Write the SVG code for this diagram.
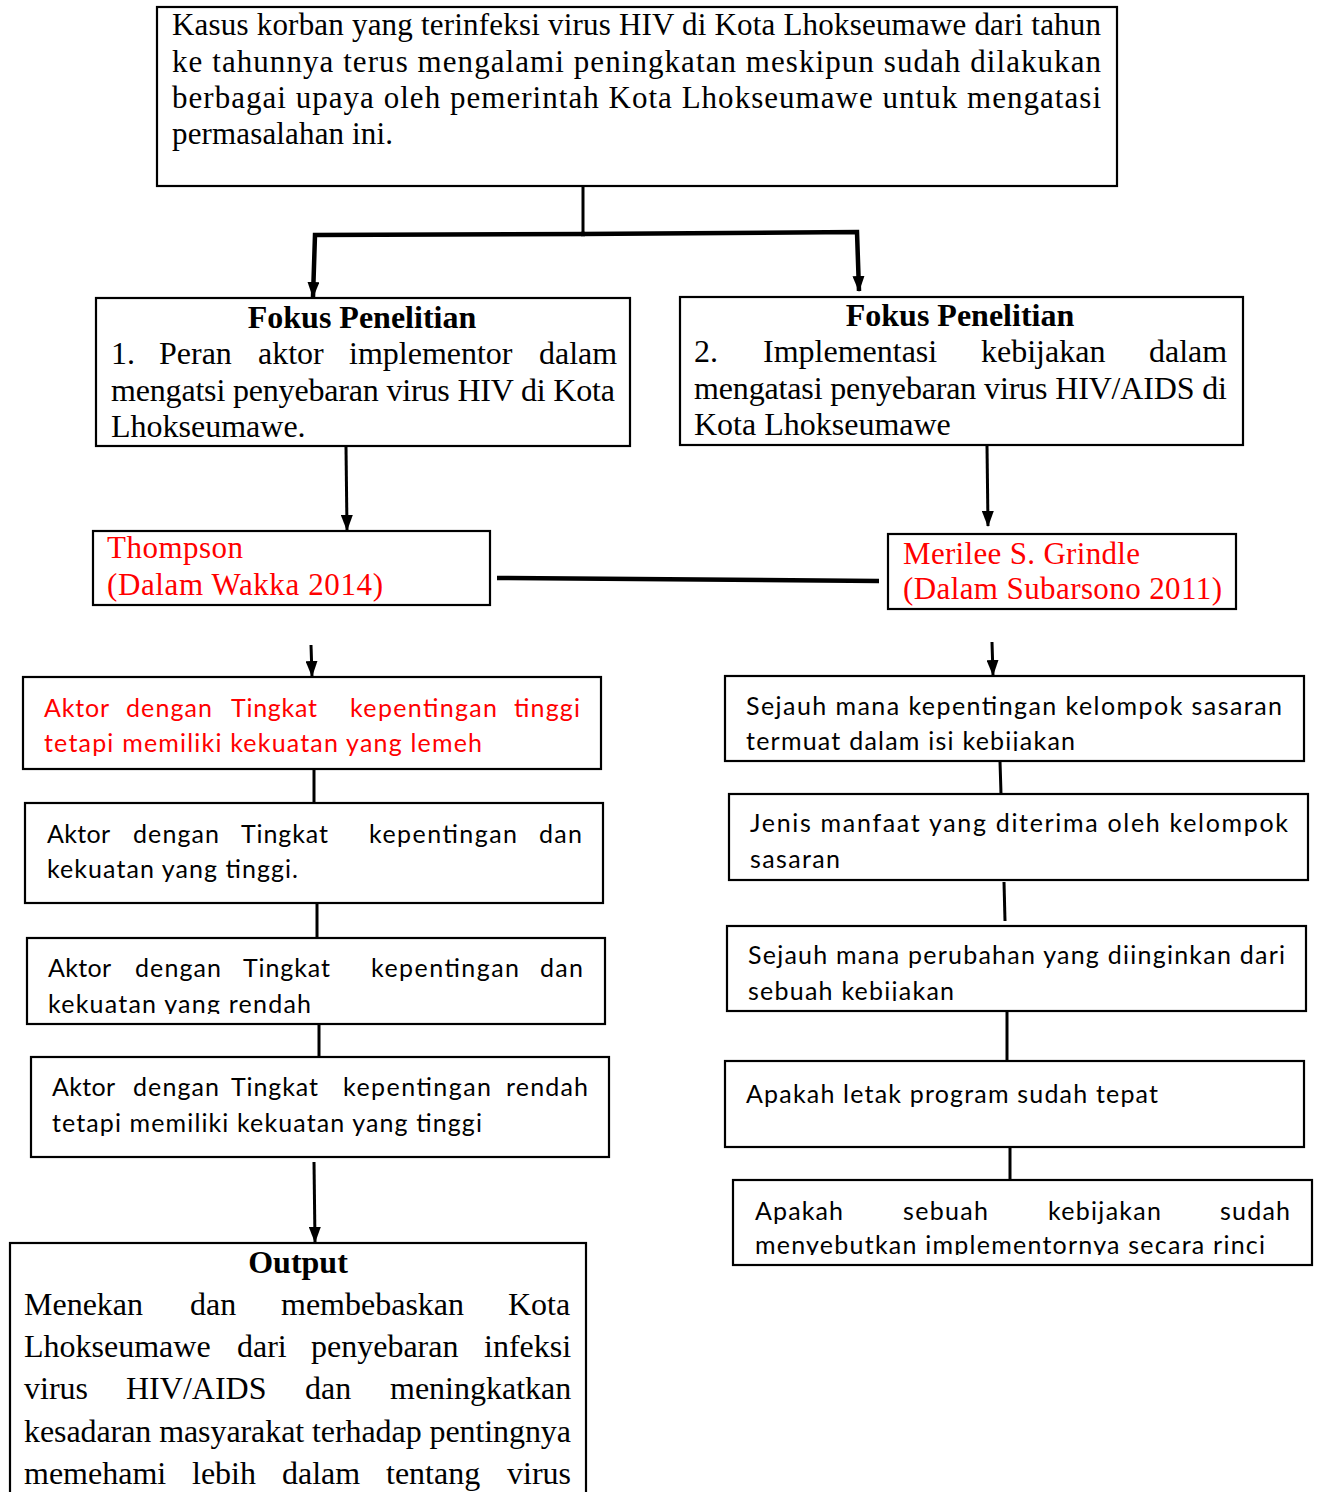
<svg xmlns="http://www.w3.org/2000/svg" width="1318" height="1492" viewBox="0 0 1318 1492">
<style>
.box{fill:#fff;stroke:#000;stroke-width:2.2}
.serif{font-family:"Liberation Serif","Times New Roman",serif;font-size:31px;fill:#000}
.serif32{font-family:"Liberation Serif","Times New Roman",serif;font-size:32px;fill:#000}
.bold{font-weight:bold}
.sans{font-family:Lato,"Open Sans","Noto Sans",sans-serif;font-size:25px;fill:#000}
.red{fill:#ff0000}
.conn{stroke:#000;stroke-width:3;fill:none}
.thick{stroke-width:4.5}
.arrow{marker-end:url(#ah)}
</style>
<defs>
<marker id="ah" viewBox="0 0 16 12" refX="15" refY="6" markerWidth="16" markerHeight="12" markerUnits="userSpaceOnUse" orient="auto">
<path d="M0,0 L16,6 L0,12 Z" fill="#000"/>
</marker>
<clipPath id="clipC"><rect x="27" y="938" width="578" height="76"/></clipPath>
<clipPath id="clipR1"><rect x="725" y="676" width="579" height="75"/></clipPath>
<clipPath id="clipR3"><rect x="727" y="926" width="579" height="75"/></clipPath>
<clipPath id="clipR5"><rect x="733" y="1180" width="579" height="75"/></clipPath>
</defs>
<rect width="1318" height="1492" fill="#fff"/>

<g id="connectors">
<path class="conn" d="M583,183 V234"/>
<path class="conn thick arrow" d="M585,234 L315,235 L313,297"/>
<path class="conn thick arrow" d="M581,234 L857,232 L859,291"/>
<path class="conn arrow" d="M346,447 L347,530"/>
<path class="conn arrow" d="M987,446 L988,526"/>
<path class="conn thick" d="M497,578 L879,581"/>
<path class="conn arrow" d="M311,645 L312,676"/>
<path class="conn arrow" d="M992,642 L993,675"/>
<path class="conn" d="M314,769 V803"/>
<path class="conn" d="M317,903 V938"/>
<path class="conn" d="M319,1024 V1057"/>
<path class="conn arrow" d="M314,1162 L315,1242"/>
<path class="conn" d="M1000,761 L1001,794"/>
<path class="conn" d="M1004,882 L1005,921"/>
<path class="conn" d="M1007,1011 V1061"/>
<path class="conn" d="M1010,1147 V1180"/>
</g>

<g id="node-top">
<rect class="box" x="157" y="7" width="960" height="179"/>
<text class="serif" x="172" y="35" textLength="929" lengthAdjust="spacing">Kasus korban yang terinfeksi virus HIV di Kota Lhokseumawe dari tahun</text>
<text class="serif" x="172" y="72" textLength="929" lengthAdjust="spacing">ke tahunnya terus mengalami peningkatan meskipun sudah dilakukan</text>
<text class="serif" x="172" y="108" textLength="929" lengthAdjust="spacing">berbagai upaya oleh pemerintah Kota Lhokseumawe untuk mengatasi</text>
<text class="serif" x="172" y="144" textLength="221" lengthAdjust="spacing">permasalahan ini.</text>
</g>

<g id="node-fokus1">
<rect class="box" x="96" y="298" width="534" height="148"/>
<text class="serif32 bold" x="362" y="328" text-anchor="middle">Fokus Penelitian</text>
<text class="serif32" y="364"><tspan x="111">1.</tspan><tspan x="159">Peran</tspan><tspan x="258">aktor</tspan><tspan x="349">implementor</tspan><tspan x="539">dalam</tspan></text>
<text class="serif32" x="111" y="401" textLength="504" lengthAdjust="spacing">mengatsi penyebaran virus HIV di Kota</text>
<text class="serif32" x="111" y="437">Lhokseumawe.</text>
</g>

<g id="node-fokus2">
<rect class="box" x="680" y="297" width="563" height="148"/>
<text class="serif32 bold" x="960" y="326" text-anchor="middle">Fokus Penelitian</text>
<text class="serif32" y="362"><tspan x="694">2.</tspan><tspan x="763">Implementasi</tspan><tspan x="981">kebijakan</tspan><tspan x="1149">dalam</tspan></text>
<text class="serif32" x="694" y="399" textLength="533" lengthAdjust="spacing">mengatasi penyebaran virus HIV/AIDS di</text>
<text class="serif32" x="694" y="435">Kota Lhokseumawe</text>
</g>

<g id="node-thompson">
<rect class="box" x="93" y="531" width="397" height="74"/>
<text class="serif red" x="107" y="558" textLength="136" lengthAdjust="spacing">Thompson</text>
<text class="serif red" x="107" y="595" textLength="276" lengthAdjust="spacing">(Dalam Wakka 2014)</text>
</g>

<g id="node-grindle">
<rect class="box" x="888" y="534" width="348" height="75"/>
<text class="serif red" x="903" y="564" textLength="237" lengthAdjust="spacing">Merilee S. Grindle</text>
<text class="serif red" x="903" y="599" textLength="319" lengthAdjust="spacing">(Dalam Subarsono 2011)</text>
</g>

<g id="node-aktor1">
<rect class="box" x="23" y="677" width="578" height="92"/>
<text class="sans red" y="717"><tspan x="44" textLength="65">Aktor</tspan><tspan x="126" textLength="86">dengan</tspan><tspan x="231" textLength="86">Tingkat</tspan><tspan x="350" textLength="147">kepentingan</tspan><tspan x="514" textLength="66">tinggi</tspan></text>
<text class="sans red" x="44" y="752" textLength="438" lengthAdjust="spacing">tetapi memiliki kekuatan yang lemeh</text>
</g>

<g id="node-aktor2">
<rect class="box" x="25" y="803" width="578" height="100"/>
<text class="sans" y="843"><tspan x="47" textLength="63">Aktor</tspan><tspan x="133" textLength="86">dengan</tspan><tspan x="241" textLength="87">Tingkat</tspan><tspan x="369" textLength="148">kepentingan</tspan><tspan x="539" textLength="43">dan</tspan></text>
<text class="sans" x="47" y="878" textLength="251" lengthAdjust="spacing">kekuatan yang tinggi.</text>
</g>

<g id="node-aktor3">
<rect class="box" x="27" y="938" width="578" height="86"/>
<text class="sans" y="977"><tspan x="48" textLength="63">Aktor</tspan><tspan x="135" textLength="86">dengan</tspan><tspan x="243" textLength="87">Tingkat</tspan><tspan x="371" textLength="148">kepentingan</tspan><tspan x="540" textLength="43">dan</tspan></text>
<text class="sans" x="48" y="1013" textLength="263" lengthAdjust="spacing" clip-path="url(#clipC)">kekuatan yang rendah</text>
</g>

<g id="node-aktor4">
<rect class="box" x="31" y="1057" width="578" height="100"/>
<text class="sans" y="1096"><tspan x="52" textLength="63">Aktor</tspan><tspan x="133" textLength="86">dengan</tspan><tspan x="231" textLength="87">Tingkat</tspan><tspan x="343" textLength="148">kepentingan</tspan><tspan x="506" textLength="82">rendah</tspan></text>
<text class="sans" x="52" y="1132" textLength="430" lengthAdjust="spacing">tetapi memiliki kekuatan yang tinggi</text>
</g>

<g id="node-output">
<rect class="box" x="10" y="1243" width="576" height="270"/>
<text class="serif32 bold" x="298" y="1273" text-anchor="middle">Output</text>
<text class="serif32" y="1315"><tspan x="24">Menekan</tspan><tspan x="190">dan</tspan><tspan x="281">membebaskan</tspan><tspan x="508">Kota</tspan></text>
<text class="serif32" y="1357"><tspan x="24">Lhokseumawe</tspan><tspan x="237">dari</tspan><tspan x="311">penyebaran</tspan><tspan x="484">infeksi</tspan></text>
<text class="serif32" y="1399"><tspan x="24">virus</tspan><tspan x="126">HIV/AIDS</tspan><tspan x="305">dan</tspan><tspan x="390">meningkatkan</tspan></text>
<text class="serif32" x="24" y="1442" textLength="547" lengthAdjust="spacing">kesadaran masyarakat terhadap pentingnya</text>
<text class="serif32" y="1484"><tspan x="24">memehami</tspan><tspan x="192">lebih</tspan><tspan x="282">dalam</tspan><tspan x="386">tentang</tspan><tspan x="507">virus</tspan></text>
</g>

<g id="node-grindle1">
<rect class="box" x="725" y="676" width="579" height="85"/>
<text class="sans" x="746" y="715" textLength="536" lengthAdjust="spacing">Sejauh mana kepentingan kelompok sasaran</text>
<text class="sans" x="746" y="750" textLength="329" lengthAdjust="spacing" clip-path="url(#clipR1)">termuat dalam isi kebijakan</text>
</g>

<g id="node-grindle2">
<rect class="box" x="729" y="794" width="579" height="86"/>
<text class="sans" x="750" y="832" textLength="538" lengthAdjust="spacing">Jenis manfaat yang diterima oleh kelompok</text>
<text class="sans" x="750" y="868" textLength="90" lengthAdjust="spacing">sasaran</text>
</g>

<g id="node-grindle3">
<rect class="box" x="727" y="926" width="579" height="85"/>
<text class="sans" x="748" y="964" textLength="537" lengthAdjust="spacing">Sejauh mana perubahan yang diinginkan dari</text>
<text class="sans" x="748" y="1000" textLength="206" lengthAdjust="spacing" clip-path="url(#clipR3)">sebuah kebijakan</text>
</g>

<g id="node-grindle4">
<rect class="box" x="725" y="1061" width="579" height="86"/>
<text class="sans" x="746" y="1103" textLength="412" lengthAdjust="spacing">Apakah letak program sudah tepat</text>
</g>

<g id="node-grindle5">
<rect class="box" x="733" y="1180" width="579" height="85"/>
<text class="sans" y="1220"><tspan x="755" textLength="88">Apakah</tspan><tspan x="903" textLength="85">sebuah</tspan><tspan x="1048" textLength="113">kebijakan</tspan><tspan x="1220" textLength="70">sudah</tspan></text>
<text class="sans" x="755" y="1254" textLength="510" lengthAdjust="spacing" clip-path="url(#clipR5)">menyebutkan implementornya secara rinci</text>
</g>
</svg>
